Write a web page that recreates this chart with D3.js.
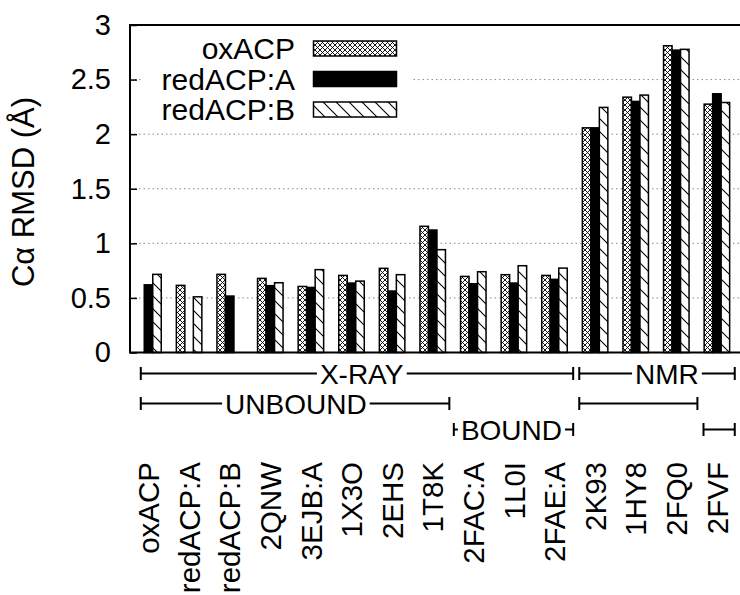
<!DOCTYPE html>
<html>
<head>
    <title>RMSD bar chart</title>
    <script src="https://d3js.org/d3.v7.min.js"></script>
    <style>
        body {
            margin: 0;
            padding: 0;
            background-color: #fff;
        }
        svg text {
            font-family: 'Liberation Sans', Arial, sans-serif;
            fill: #000;
        }
    </style>
</head>
<body>
    <svg id="chart" width="740" height="595"></svg>

    <script>
        // structures compared against each reference
        const categories = ["oxACP", "redACP:A", "redACP:B", "2QNW", "3EJB:A", "1X3O", "2EHS", "1T8K",
                            "2FAC:A", "1L0I", "2FAE:A", "2K93", "1HY8", "2FQ0", "2FVF"];

        const seriesNames = ["oxACP", "redACP:A", "redACP:B"];
        const oxACP    = [0, 0.615, 0.716, 0.679, 0.605, 0.706, 0.771, 1.156, 0.697, 0.713, 0.706, 2.058, 2.339, 2.810, 2.275];
        const redACP_A = [0.620, 0, 0.517, 0.612, 0.596, 0.636, 0.563, 1.122, 0.630, 0.636, 0.670, 2.058, 2.300, 2.770, 2.370];
        const redACP_B = [0.716, 0.510, 0, 0.639, 0.759, 0.654, 0.713, 0.942, 0.740, 0.795, 0.773, 2.245, 2.358, 2.777, 2.290];

        const yTicks = [0, 0.5, 1, 1.5, 2, 2.5, 3];

        // group brackets under the axis, in category units (0 = first category)
        const brackets = [
            {label: "X-RAY",   row: 0, from: -0.19, to: 10.46, labelAt: 5.25},
            {label: "NMR",     row: 0, from: 10.61, to: 14.44, labelAt: 12.77},
            {label: "UNBOUND", row: 1, from: -0.19, to: 7.41,  labelAt: 3.63},
            {label: "",        row: 1, from: 10.61, to: 13.52, labelAt: null},
            {label: "BOUND",   row: 2, from: 7.52,  to: 10.46, labelAt: 8.94},
            {label: "",        row: 2, from: 13.67, to: 14.44, labelAt: null}
        ];

        const series = [oxACP, redACP_A, redACP_B];

        const svg = d3.select("#chart");
        const pLeft = 130, pTop = 25, pBottom = 352.5, pRight = 745;
        const barW = 8.5;

        const x = d3.scaleBand().domain(categories).range([128.2, 737.2]).padding(0);
        const pos = u => x(categories[0]) + x.bandwidth() / 2 + u * x.step();
        const y = d3.scaleLinear().domain([0, 3]).range([pBottom, pTop]);

        // patterns
        const defs = svg.append("defs");
        const cross = defs.append("pattern")
            .attr("id", "cross").attr("patternUnits", "userSpaceOnUse")
            .attr("width", 5).attr("height", 5);
        cross.append("rect").attr("width", 5).attr("height", 5).attr("fill", "#fff");
        cross.append("path").attr("d", "M0,0L5,5M5,0L0,5")
            .attr("stroke", "#000").attr("stroke-width", 0.9);

        const hatch = defs.append("pattern")
            .attr("id", "hatch").attr("patternUnits", "userSpaceOnUse")
            .attr("width", 13).attr("height", 13);
        hatch.append("rect").attr("width", 13).attr("height", 13).attr("fill", "#fff");
        hatch.append("path").attr("d", "M0,0L13,13M-13,0L0,13M13,-13L26,0M0,-13L13,0M0,13L13,26")
            .attr("stroke", "#000").attr("stroke-width", 1.1);

        const fills = ["url(#cross)", "#000", "url(#hatch)"];

        // grid
        svg.append("g").selectAll("line")
            .data(yTicks.filter(t => t > 0 && t < 3))
            .join("line")
            .attr("x1", pLeft).attr("x2", pRight)
            .attr("y1", d => y(d)).attr("y2", d => y(d))
            .attr("stroke", "#888").attr("stroke-width", 1)
            .attr("stroke-dasharray", "1.5,3");

        // bars
        series.forEach((vals, s) => {
            svg.append("g").selectAll("rect")
                .data(vals.map((v, i) => ({cat: categories[i], v: v})))
                .join("rect")
                .attr("x", d => x(d.cat) + x.bandwidth() / 2 + (s - 1.5) * barW)
                .attr("y", d => y(d.v))
                .attr("width", barW)
                .attr("height", d => pBottom - y(d.v))
                .attr("fill", fills[s])
                .attr("stroke", "#000")
                .attr("stroke-width", 1.5);
        });

        // legend
        const legend = svg.append("g");
        legend.append("rect").attr("x", 141).attr("y", 32).attr("width", 271).attr("height", 92).attr("fill", "#fff");
        seriesNames.forEach((name, s) => {
            const cy = 48.5 + s * 30.5;
            legend.append("text")
                .attr("x", 295).attr("y", cy).attr("dy", "0.36em")
                .attr("text-anchor", "end").attr("font-size", 30)
                .text(name);
            legend.append("rect")
                .attr("x", 313.5).attr("y", cy - 7.5).attr("width", 83).attr("height", 15)
                .attr("fill", fills[s]).attr("stroke", "#000").attr("stroke-width", 1.5);
        });

        // frame
        svg.append("path")
            .attr("d", `M${pRight},${pTop}H${pLeft}V${pBottom}H${pRight}`)
            .attr("fill", "none").attr("stroke", "#000").attr("stroke-width", 2);

        // y axis
        const yAxis = svg.append("g").attr("transform", `translate(${pLeft},0)`)
            .call(d3.axisLeft(y).tickValues(yTicks).tickFormat(d3.format("")).tickSize(-7).tickPadding(19));
        yAxis.select(".domain").remove();
        yAxis.selectAll(".tick line").attr("stroke", "#000").attr("stroke-width", 1.5);
        yAxis.selectAll(".tick text").attr("font-size", 29);
        yAxis.attr("font-family", null).attr("font-size", null);

        svg.append("text")
            .attr("transform", "translate(23,192) rotate(-90)")
            .attr("dy", "0.36em")
            .attr("text-anchor", "middle").attr("font-size", 31)
            .text("Cα RMSD (Å)");

        // x labels
        svg.append("g").selectAll("text")
            .data(categories)
            .join("text")
            .attr("transform", d => `translate(${x(d) + x.bandwidth() / 2},462) rotate(-90)`)
            .attr("dy", "0.36em")
            .attr("text-anchor", "end").attr("font-size", 29.5)
            .text(d => d);

        // brackets
        const rowY = [373.5, 403.5, 429.5];
        const br = svg.append("g");
        brackets.forEach(b => {
            const yy = rowY[b.row], x1 = pos(b.from), x2 = pos(b.to);
            br.append("path")
                .attr("d", `M${x1},${yy}H${x2}M${x1},${yy - 6.5}V${yy + 6.5}M${x2},${yy - 6.5}V${yy + 6.5}`)
                .attr("fill", "none").attr("stroke", "#000").attr("stroke-width", 2);
            if (b.label) {
                const t = br.append("text")
                    .attr("x", pos(b.labelAt)).attr("y", yy).attr("dy", "0.36em")
                    .attr("text-anchor", "middle").attr("font-size", 28)
                    .text(b.label);
                const bb = t.node().getBBox();
                br.insert("rect", function() { return t.node(); })
                    .attr("x", bb.x - 3).attr("y", yy - 4).attr("width", bb.width + 6).attr("height", 8)
                    .attr("fill", "#fff");
            }
        });
    </script>
</body>
</html>
